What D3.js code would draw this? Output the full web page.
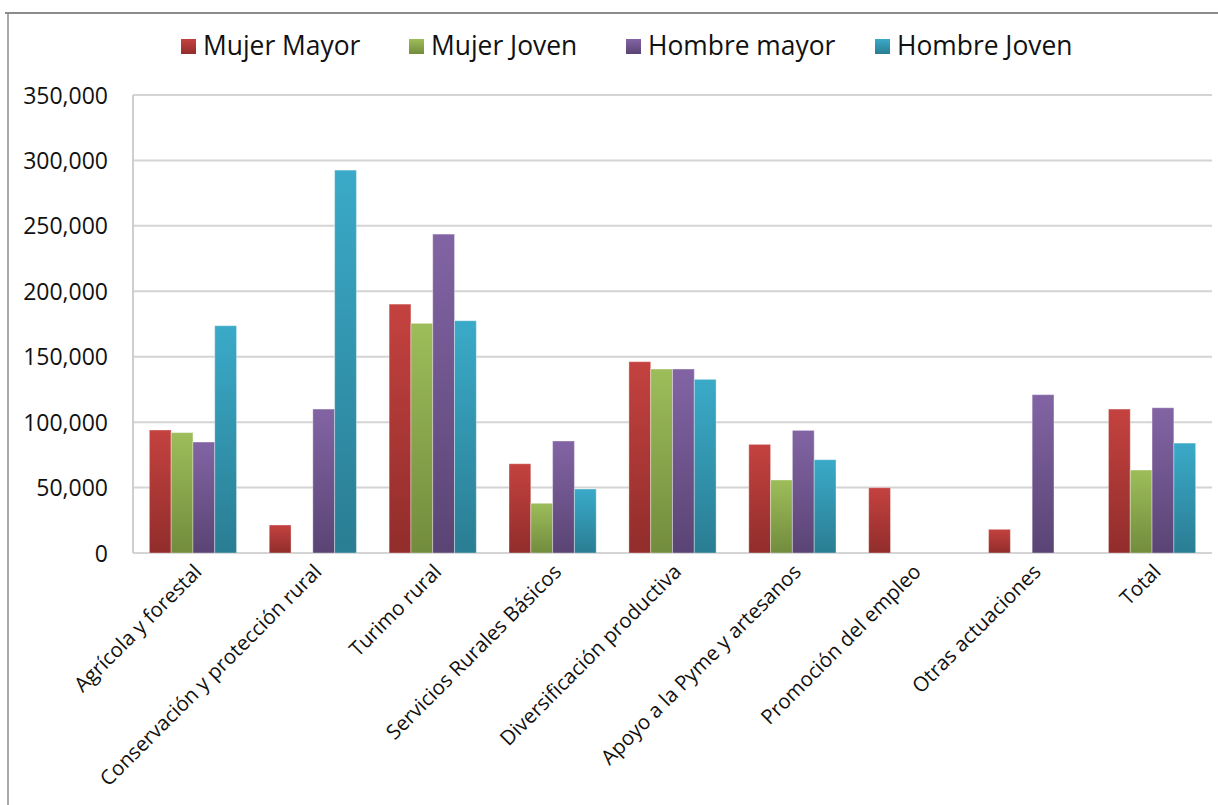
<!DOCTYPE html>
<html><head><meta charset="utf-8">
<script src="https://cdn.jsdelivr.net/npm/d3@7"></script>
<style>body{margin:0;background:#fff}svg{display:block}</style>
</head><body>
<svg id="c" width="1218" height="805"></svg>
<script>
const categories = ["Agrícola y forestal","Conservación y protección rural","Turimo rural","Servicios Rurales Básicos","Diversificación productiva","Apoyo a la Pyme y artesanos","Promoción del empleo","Otras actuaciones","Total"];
const seriesNames = ["Mujer Mayor","Mujer Joven","Hombre mayor","Hombre Joven"];
const mujerMayor  = [94000, 21400, 190200, 68200, 146200, 83000, 49900, 18100, 110000];
const mujerJoven  = [92000, 0, 175500, 38000, 140600, 55800, 0, 0, 63400];
const hombreMayor = [84800, 110000, 243700, 85600, 140600, 93700, 0, 121000, 111000];
const hombreJoven = [173700, 292600, 177500, 48900, 132700, 71300, 0, 0, 84000];
const yTicks = [0,50000,100000,150000,200000,250000,300000,350000];

const series = [mujerMayor, mujerJoven, hombreMayor, hombreJoven];
const colors = [["#C4423F","#912D2B"],["#9DBD5A","#728C3D"],["#8264A4","#5A4474"],["#3AAAC8","#2A7D93"]];

const svg = d3.select("#c");
const font = "'Open Sans', sans-serif";
const m = {left:133, right:1212, top:95, bottom:553};

// outer frame
svg.append("line").attr("x1",5).attr("x2",1218).attr("y1",13).attr("y2",13).attr("stroke","#8c8c8c").attr("stroke-width",2);
svg.append("line").attr("x1",8).attr("x2",8).attr("y1",13).attr("y2",805).attr("stroke","#8c8c8c").attr("stroke-width",1.5);

const defs = svg.append("defs");
colors.forEach((c,i)=>{
  const g = defs.append("linearGradient").attr("id","g"+i).attr("x1",0).attr("x2",0).attr("y1",0).attr("y2",1);
  g.append("stop").attr("offset","0%").attr("stop-color",c[0]);
  g.append("stop").attr("offset","100%").attr("stop-color",c[1]);
});

const x0 = d3.scaleBand().domain(categories).range([m.left,m.right]).paddingInner(0).paddingOuter(0);
const y = d3.scaleLinear().domain([0,350000]).range([m.bottom,m.top]);
const bw = x0.bandwidth()/5.5;

// gridlines
svg.append("g").selectAll("line").data(yTicks).join("line")
  .attr("x1",m.left).attr("x2",m.right).attr("y1",d=>y(d)).attr("y2",d=>y(d))
  .attr("stroke","#d4d4d4").attr("stroke-width",2);
svg.append("line").attr("x1",m.left).attr("x2",m.left).attr("y1",m.top).attr("y2",m.bottom).attr("stroke","#cfcfcf").attr("stroke-width",2);

// y axis labels
const yAxis = d3.axisLeft(y).tickValues(yTicks).tickSize(0).tickPadding(0).tickFormat(d3.format(","));
const ya = svg.append("g").attr("transform",`translate(108,0)`).call(yAxis);
ya.select(".domain").remove();
ya.selectAll("text").attr("font-family",font).attr("font-size",23).attr("fill","#111").attr("dy","0.35em");

// bars
categories.forEach((c,ci)=>{
  const gx = x0(c) + x0.bandwidth()/2 - 2*bw;
  svg.append("g").selectAll("rect").data(series.map((s,si)=>({v:s[ci],si})).filter(d=>d.v>0)).join("rect")
    .attr("x",d=>gx + d.si*bw).attr("width",bw)
    .attr("y",d=>y(d.v)).attr("height",d=>y(0)-y(d.v))
    .attr("fill",d=>`url(#g${d.si})`).attr("stroke","rgba(255,255,255,0.35)").attr("stroke-width",1);
});

// x labels
const xa = svg.append("g").attr("transform",`translate(0,${m.bottom})`).call(d3.axisBottom(x0).tickSize(0).tickPadding(0));
xa.select(".domain").remove();
xa.selectAll("text").attr("font-family",font).attr("font-size",20.5).attr("fill","#111")
  .attr("text-anchor","end").attr("dy",0)
  .attr("transform","translate(10,20) rotate(-45)");

// legend
const legX = [181, 409, 626, 875];
const leg = svg.append("g");
seriesNames.forEach((n,i)=>{
  leg.append("rect").attr("x",legX[i]).attr("y",39).attr("width",15).attr("height",15).attr("fill",`url(#g${i})`);
  leg.append("text").attr("x",legX[i]+22).attr("y",46).attr("dy","0.35em").attr("font-family",font).attr("font-size",26.4).attr("fill","#111").text(n);
});
</script>
</body></html>
